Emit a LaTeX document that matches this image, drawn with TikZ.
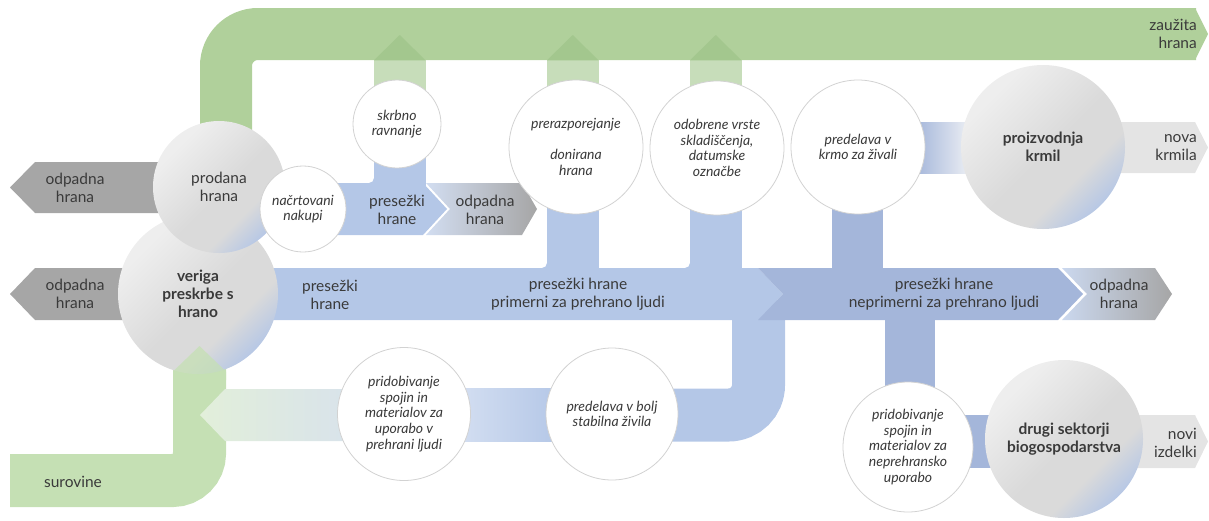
\documentclass[tikz,border=0pt]{standalone}
\usepackage{fontspec}
\setmainfont{Lato}
\definecolor{gband}{HTML}{B0D09B}
\definecolor{gcol}{HTML}{C7DDBA}
\definecolor{ghead}{HTML}{A3C78E}
\definecolor{sur}{HTML}{C5E0B4}
\definecolor{lgA}{HTML}{E2EFDA}
\definecolor{lgB}{HTML}{D8E2EC}
\definecolor{blueL}{HTML}{B4C7E7}
\definecolor{blueD}{HTML}{A4B6DA}
\definecolor{grayD}{HTML}{A6A6A6}
\definecolor{grayL}{HTML}{E4E4E4}
\definecolor{cbord}{HTML}{D2D2D2}
\definecolor{txtc}{HTML}{3A3A3A}
\definecolor{cA}{HTML}{EEEEEE}
\definecolor{cB}{HTML}{DADADA}
\definecolor{cC}{HTML}{B4C6E6}
\pgfdeclarehorizontalshading{ballg}{100bp}{color(0bp)=(cA); color(28bp)=(cA); color(52bp)=(cB); color(64bp)=(cB); color(76bp)=(cC); color(100bp)=(cC)}
% concave fillet: white corner at (#2,#3) rounded, blue right of and below it
\newcommand\mkfillet[4]{\fill[#1] (#2-#4,#3) .. controls (#2-0.448*#4,#3) and (#2,#3-0.448*#4) .. (#2,#3-#4) -- (#2,#3) -- cycle;}
\begin{document}
\begin{tikzpicture}[x=1pt,y=-1pt,
  mtxt/.style={font=\fontsize{15.5}{18}\selectfont, text=txtc, align=center, inner sep=0pt},
  btxt/.style={font=\fontsize{15.5}{18}\selectfont\bfseries, text=txtc, align=center, inner sep=0pt},
  itxt/.style={font=\fontsize{14}{15.7}\selectfont\itshape, text=txtc, align=center, inner sep=0pt},
  wc/.style={circle, draw=cbord, line width=0.8pt, fill=white, inner sep=0pt, itxt},
  gc/.style={circle, shade, shading=ballg, shading angle=-45, inner sep=0pt}
]
\useasboundingbox (0,0) rectangle (1209,520);

% ---- green top band ----
\draw[gband, line width=52pt, rounded corners=32pt] (226,230) -- (226,34) -- (1196,34);
\fill[gband] (1195,8) -- (1208,34) -- (1195,60) -- cycle;
\foreach \x in {374,547,690} {
  \fill[gcol] (\x,60) rectangle (\x+51.5,110);
  \fill[ghead] (\x,60.3) -- (\x+25.75,35) -- (\x+51.5,60.3) -- cycle;
}

% ---- light blue network ----
\fill[blueL] (374,150) rectangle (425.5,190);
\fill[blueL] (295,183) -- (423,183) -- (447,209) -- (423,235) -- (295,235) -- cycle;
\mkfillet{blueL}{374}{183}{5}
\fill[blueL] (547,200) rectangle (598.5,270);
\fill[blueL] (690,200) rectangle (742,270);
\fill[blueL] (230,268) -- (758,268) -- (783,294) -- (758,320) -- (230,320) -- cycle;
\mkfillet{blueL}{547}{268}{5}
\mkfillet{blueL}{690}{268}{5}
\draw[blueL, line width=53pt, rounded corners=30pt] (758.5,300) -- (758.5,415) -- (600,415);
\shade[left color=blueL!55!white, right color=blueL] (450,388.5) rectangle (560,441.5);

% ---- dark blue network ----
\fill[blueD] (758,268) -- (1058,268) -- (1083,294) -- (1058,320) -- (758,320) -- (783,294) -- cycle;
\fill[blueD] (832,200) rectangle (882.5,270);
\fill[blueD] (885,318) rectangle (935,400);
\shade[left color=blueD, right color=grayL!80!blueD!30] (915,122) rectangle (975,173);
\fill[blueD] (960,415) rectangle (1000,468);

% ---- grey chevrons ----
\fill[grayD] (10,187.5) -- (35,162) -- (175,162) -- (175,213) -- (35,213) -- cycle;
\fill[grayD] (10,294) -- (35,268) -- (150,268) -- (150,320) -- (35,320) -- cycle;
\shade[left color=blueL!60!white, middle color=grayD, right color=grayD]
  (426,183) -- (522,183) -- (537,209) -- (522,235) -- (426,235) -- (450,209) -- cycle;
\shade[left color=blueL!70!white, middle color=grayD, right color=grayD]
  (1062,268) -- (1155,268) -- (1172,294) -- (1155,320) -- (1062,320) -- (1087,294) -- cycle;
\fill[grayL] (1110,122) -- (1195,122) -- (1208,147.5) -- (1195,173) -- (1110,173) -- cycle;
\fill[grayL] (1130,415) -- (1195,415) -- (1208,441.5) -- (1195,468) -- (1130,468) -- cycle;

% ---- surovine ----
\draw[sur, line width=53pt, rounded corners=27pt] (10,480.5) -- (199.5,480.5) -- (199.5,360);
\shade[left color=lgA, middle color=lgA, right color=lgB]
  (200,415) -- (225,389) -- (360,389) -- (360,441) -- (225,441) -- cycle;

% ---- circles ----
\node[gc, minimum size=160pt, btxt] (veriga) at (198,294) {veriga\\preskrbe s\\hrano};
\node[gc, minimum size=132pt, mtxt] (prodana) at (219,187) {prodana\\hrana};
\node[wc, minimum size=86pt] (nakupi) at (303,209) {načrtovani\\nakupi};
\node[wc, minimum size=88pt] (skrbno) at (397,124) {skrbno\\ravnanje};
\node[wc, minimum size=134pt] (prer) at (576,147) {prerazporejanje\\[15.7pt]donirana\\hrana};
\node[wc, minimum size=134pt] (odob) at (717,148) {odobrene vrste\\skladiščenja,\\datumske\\označbe};
\node[wc, minimum size=134pt] (krmo) at (858,147) {predelava v\\krmo za živali};
\node[gc, minimum size=164pt, btxt] (krmil) at (1043,147) {proizvodnja\\krmil};
\node[wc, minimum size=133pt] (prid1) at (404,414) {pridobivanje\\spojin in\\materialov za\\uporabo v\\prehrani ljudi};
\node[wc, minimum size=132pt] (stab) at (612,414) {predelava v bolj\\stabilna živila};
\node[wc, minimum size=130pt] (prid2) at (908,447) {pridobivanje\\spojin in\\materialov za\\neprehransko\\uporabo};
\node[gc, minimum size=158pt, btxt] (drugi) at (1064,439) {drugi sektorji\\biogospodarstva};

% surovine arrow head over the circle
\fill[sur, fill opacity=0.75] (173,380) -- (173,371.5) -- (199.5,346) -- (226,371.5) -- (226,380) -- cycle;

% ---- labels ----
\node[mtxt] (t1) at (75,188) {odpadna\\hrana};
\node[mtxt] (t2) at (75,294) {odpadna\\hrana};
\node[mtxt] (t3) at (397,210) {presežki\\hrane};
\node[mtxt] (t4) at (485,210) {odpadna\\hrana};
\node[mtxt] (t5) at (330,295) {presežki\\hrane};
\node[mtxt] (t6) at (578,294) {presežki hrane\\primerni za prehrano ljudi};
\node[mtxt] (t7) at (944,294) {presežki hrane\\neprimerni za prehrano ljudi};
\node[mtxt] (t8) at (1119,294) {odpadna\\hrana};
\node[mtxt, anchor=east, align=right] (t9) at (1197,34) {zaužita\\hrana};
\node[mtxt, anchor=east, align=right] (t10) at (1197,148) {nova\\krmila};
\node[mtxt, anchor=east, align=right] (t11) at (1197,443) {novi\\izdelki};
\node[mtxt] (t12) at (73,482) {surovine};
\end{tikzpicture}
\end{document}
